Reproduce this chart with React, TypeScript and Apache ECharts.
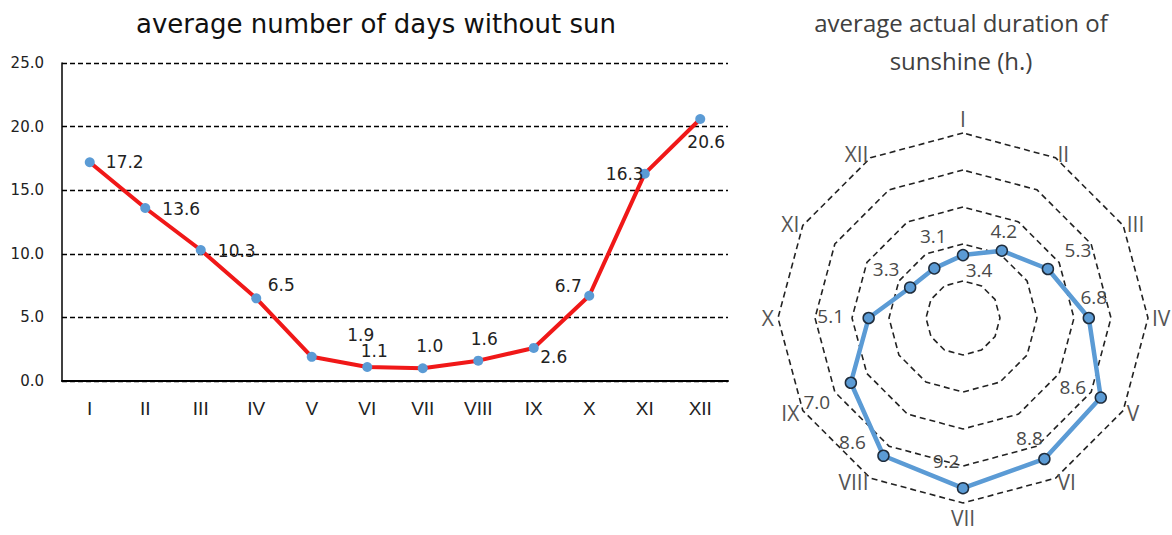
import React, { useEffect, useRef } from "react";
import * as echarts from "echarts";

const months = ["I", "II", "III", "IV", "V", "VI", "VII", "VIII", "IX", "X", "XI", "XII"];
const daysWithoutSun = [17.2, 13.6, 10.3, 6.5, 1.9, 1.1, 1.0, 1.6, 2.6, 6.7, 16.3, 20.6];
const sunshineHours = [3.4, 4.2, 5.3, 6.8, 8.6, 8.8, 9.2, 8.6, 7.0, 5.1, 3.3, 3.1];
const yMin = 0;
const yMax = 25;
const yStep = 5;
const radarMax = 10;

// label placement relative to each point (px)
const lineLabelOffsets = [
  [35, 0], [36, 1], [36, 1], [25, -13], [49, -22], [7, -16],
  [7, -22], [6, -22], [20, 9], [-21, -10], [-20, 0], [6, 23],
];
const radarLabelOffsets = [
  [16, 15], [2, -20], [30, -19], [5, -21], [-28, -11], [-15, -21],
  [-17, -27], [-31, -14], [-34, 19], [-38, -2], [-24, -18], [-1, -32],
];

export default function App() {
  const ref = useRef<HTMLDivElement>(null);
  useEffect(() => {
    document.body.style.margin = "0";
    if (!ref.current) return;
    const chart = echarts.init(ref.current, undefined, { renderer: "svg" });
    const n = months.length;
    const center = [963, 318];
    const radius = 185;
    const radarIndicators = [months[0], ...months.slice(1).reverse()].map((name) => ({ name, max: radarMax, min: 0 }));
    const polarData: any[] = sunshineHours.map((v, i) => ({
      value: [v, i],
      label: { offset: radarLabelOffsets[i] },
    }));
    polarData.push({ value: [sunshineHours[0], n], symbol: "none", label: { show: false } });

    chart.setOption({
      animation: false,
      backgroundColor: "#ffffff",
      title: [
        {
          text: "average number of days without sun",
          left: 371,
          top: 6,
          textAlign: "center",
          textStyle: { fontFamily: "DejaVu Sans", fontSize: 26, fontWeight: "normal", color: "#111" },
        },
        {
          text: "average actual duration of\nsunshine (h.)",
          left: 956,
          top: -2,
          textAlign: "center",
          textStyle: { fontFamily: "Open Sans", fontSize: 24, fontWeight: "normal", color: "#404040", lineHeight: 38 },
        },
      ],
      grid: { left: 62, top: 63, width: 666, height: 318, containLabel: false },
      xAxis: {
        type: "category",
        data: months,
        axisLine: { lineStyle: { color: "#000", width: 2 } },
        axisTick: { show: false },
        axisLabel: { fontFamily: "Liberation Sans Narrow, Liberation Sans", fontSize: 19, color: "#222", margin: 18 },
      },
      yAxis: {
        type: "value",
        min: yMin,
        max: yMax,
        interval: yStep,
        axisLine: { show: true, lineStyle: { color: "#000", width: 1.5 } },
        axisTick: { show: false },
        axisLabel: {
          fontFamily: "DejaVu Sans",
          fontSize: 15,
          color: "#222",
          margin: 18,
          formatter: (v: number) => v.toFixed(1),
        },
        splitLine: { lineStyle: { color: "#000", width: 1.4, type: [5, 3] } },
      },
      radar: {
        center,
        radius,
        startAngle: 90,
        shape: "polygon",
        splitNumber: 5,
        indicator: radarIndicators,
        axisName: { fontFamily: "Open Sans", fontSize: 21, color: "#555" },
        nameGap: 4,
        axisLine: { show: false },
        axisTick: { show: false },
        axisLabel: { show: false },
        splitArea: { show: false },
        splitLine: { lineStyle: { color: "#222", width: 1.6, type: [6, 4] } },
      },
      polar: { center, radius },
      angleAxis: { type: "value", min: 0, max: n, startAngle: 90, clockwise: true, show: false },
      radiusAxis: { type: "value", min: 0, max: radarMax, show: false },
      series: [
        {
          type: "line",
          data: daysWithoutSun.map((v, i) => ({ value: v, label: { offset: lineLabelOffsets[i] } })),
          symbol: "circle",
          symbolSize: 10,
          lineStyle: { color: "#f01818", width: 4 },
          itemStyle: { color: "#5b9bd5" },
          label: {
            show: true,
            position: "inside",
            fontFamily: "DejaVu Sans",
            fontSize: 17,
            color: "#222",
            formatter: (p: any) => Number(p.value).toFixed(1),
          },
          z: 3,
        },
        {
          type: "line",
          coordinateSystem: "polar",
          data: polarData,
          symbol: "circle",
          symbolSize: 11,
          lineStyle: { color: "#5b9bd5", width: 4.5 },
          itemStyle: { color: "#5b9bd5", borderColor: "#1f2d3d", borderWidth: 1.5 },
          label: {
            show: true,
            position: "inside",
            fontFamily: "Open Sans",
            fontSize: 19,
            color: "#4a4a4a",
            formatter: (p: any) => Number(p.value[0]).toFixed(1),
          },
          z: 3,
        },
      ],
    });
    return () => chart.dispose();
  }, []);
  return <div ref={ref} style={{ width: 1172, height: 535 }} />;
}
